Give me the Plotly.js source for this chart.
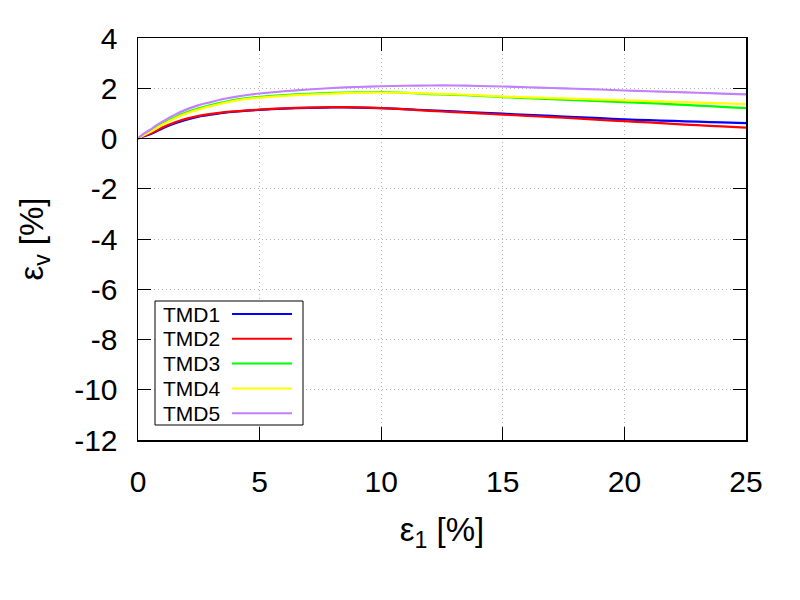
<!DOCTYPE html>
<html>
<head>
<meta charset="utf-8">
<script src="https://cdn.plot.ly/plotly-3.0.1.min.js"></script>
<style>html,body{margin:0;padding:0;background:#fff;}#chart{width:800px;height:600px;}</style>
</head>
<body>
<div id="chart"></div>
<script>
// strain values (axial strain, %)
var strainX = [0,0.25,0.5,0.75,1,1.5,2,2.5,3,3.5,4,5,6,7,8,9,10,11,12,13,14,15,16,17,18,19,20,21,22,23,24,25];
// volumetric strain (%) per test
var tmd1 = [0,0.09,0.17,0.28,0.40,0.60,0.75,0.87,0.95,1.02,1.07,1.14,1.19,1.22,1.24,1.23,1.21,1.17,1.12,1.08,1.03,0.99,0.94,0.90,0.85,0.81,0.76,0.73,0.70,0.67,0.64,0.61];
var tmd2 = [0,0.11,0.20,0.31,0.44,0.64,0.79,0.90,0.98,1.04,1.08,1.15,1.20,1.23,1.25,1.24,1.21,1.16,1.10,1.05,1.00,0.95,0.90,0.85,0.80,0.74,0.69,0.64,0.58,0.53,0.48,0.43];
var tmd3 = [0,0.16,0.29,0.44,0.59,0.84,1.04,1.20,1.33,1.44,1.54,1.66,1.73,1.78,1.82,1.84,1.85,1.82,1.77,1.74,1.70,1.65,1.61,1.57,1.53,1.49,1.45,1.41,1.36,1.31,1.26,1.21];
var tmd4 = [0,0.14,0.26,0.40,0.55,0.80,1.00,1.16,1.29,1.41,1.51,1.63,1.70,1.75,1.79,1.82,1.83,1.82,1.79,1.76,1.72,1.67,1.64,1.61,1.58,1.55,1.52,1.49,1.46,1.43,1.40,1.37];
var tmd5 = [0,0.20,0.35,0.52,0.67,0.94,1.16,1.33,1.45,1.57,1.66,1.79,1.88,1.95,2.01,2.05,2.08,2.10,2.11,2.11,2.09,2.07,2.04,2.01,1.98,1.95,1.91,1.88,1.85,1.82,1.79,1.76];
var seriesNames = ["TMD1","TMD2","TMD3","TMD4","TMD5"];
var seriesColors = ["#0000ff","#ff0000","#00ff00","#ffff00","#c080ff"];
var xTicks = [0,5,10,15,20,25];
var yTicks = [-12,-10,-8,-6,-4,-2,0,2,4];

var allY = [tmd1,tmd2,tmd3,tmd4,tmd5];
var traces = allY.map(function(ys,i){
  return {x: strainX, y: ys, type:'scatter', mode:'lines', name: seriesNames[i],
          line:{color: seriesColors[i], width:2.2, shape:'spline', smoothing:0.6}, showlegend:false};
});

// custom legend (text left, line sample right) inside a framed box
var shapes = [{type:'rect', xref:'paper', yref:'paper', x0:(155-138)/608, x1:(303-138)/608,
  y0:(440-425)/402, y1:(440-301)/402, fillcolor:'#ffffff', line:{color:'#000000', width:1}, layer:'above'}];
var annotations = [];
seriesNames.forEach(function(n,i){
  var yp = 314 + i*24.8;
  var yy = (440-yp)/402;
  shapes.push({type:'line', xref:'paper', yref:'paper', x0:(232-138)/608, x1:(292-138)/608, y0:yy, y1:yy,
    line:{color:seriesColors[i], width:2}, layer:'above'});
  annotations.push({xref:'paper', yref:'paper', x:(161-138)/608, y:yy, xanchor:'left', yanchor:'middle',
    text:n, showarrow:false, font:{family:'Liberation Sans, Arial, sans-serif', size:21, color:'#000'}});
});

var axisFont = {family:'Liberation Sans, Arial, sans-serif', size:30, color:'#000'};
var titleFont = {family:'Liberation Sans, Arial, sans-serif', size:33, color:'#000'};
var layout = {
  width:800, height:600,
  margin:{l:138, r:54, t:38, b:160},
  paper_bgcolor:'#ffffff', plot_bgcolor:'#ffffff',
  font:{family:'Liberation Sans, Arial, sans-serif', color:'#000'},
  xaxis:{range:[0,25], tickvals:xTicks, ticktext:xTicks.map(String), ticks:'inside', ticklen:13, tickwidth:1, tickcolor:'#000',
    showline:true, linecolor:'#000', linewidth:1.5, mirror:'allticks',
    showgrid:true, gridcolor:'#b4b4b4', griddash:'1px,3px', gridwidth:1, zeroline:false,
    tickfont:axisFont, ticklabelstandoff:14,
    title:{text:'ε<sub>1</sub> [%]', font:titleFont, standoff:21}},
  yaxis:{range:[-12,4], tickvals:yTicks, ticktext:yTicks.map(String), ticks:'inside', ticklen:13, tickwidth:1, tickcolor:'#000',
    showline:true, linecolor:'#000', linewidth:1.5, mirror:'allticks',
    showgrid:true, gridcolor:'#b4b4b4', griddash:'1px,3px', gridwidth:1,
    zeroline:true, zerolinecolor:'#000', zerolinewidth:1.5,
    tickfont:axisFont, ticklabelstandoff:13,
    title:{text:'ε<sub>v</sub> [%]', font:titleFont, standoff:20}},
  shapes:shapes, annotations:annotations
};
Plotly.newPlot('chart', traces, layout, {displayModeBar:false, staticPlot:true});
</script>
</body>
</html>
